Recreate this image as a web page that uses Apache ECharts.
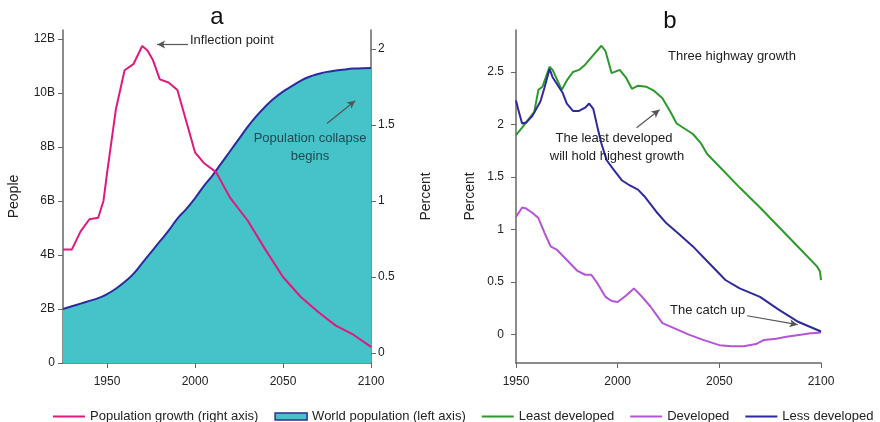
<!DOCTYPE html>
<html><head><meta charset="utf-8">
<script src="https://cdn.jsdelivr.net/npm/echarts@6/dist/echarts.min.js"></script>
<style>html,body{margin:0;padding:0;background:#fff}#c{width:880px;height:422px}</style>
</head><body><div id="c"></div>
<script>
// Panel a
const growthYears  = [1925,1930,1935,1940,1945,1948,1950,1955,1960,1965,1970,1973,1976,1980,1985,1990,2000,2005,2012,2020,2030,2040,2050,2060,2070,2080,2090,2100];
const growthValues = [0.68,0.68,0.80,0.88,0.89,1.00,1.18,1.60,1.86,1.90,2.02,1.99,1.93,1.80,1.78,1.73,1.32,1.25,1.19,1.02,0.87,0.68,0.50,0.37,0.27,0.18,0.12,0.04];
const popYears  = [1925,1930,1935,1940,1945,1950,1955,1960,1965,1970,1975,1980,1985,1990,1995,2000,2005,2010,2015,2020,2025,2030,2035,2040,2045,2050,2055,2060,2065,2070,2075,2080,2085,2090,2095,2100];
const popValues = [2.0,2.1,2.2,2.3,2.4,2.55,2.75,3.0,3.3,3.7,4.1,4.5,4.9,5.35,5.7,6.1,6.55,6.95,7.4,7.85,8.3,8.75,9.15,9.5,9.8,10.05,10.25,10.45,10.6,10.7,10.78,10.83,10.87,10.9,10.91,10.92];
const leftTicks  = [0,2,4,6,8,10,12];
const rightTicks = [0,0.5,1,1.5,2];
const xTicks = [1950,2000,2050,2100];
// Panel b
const leastYears  = [1950,1953,1957,1959,1961,1963,1966.5,1968,1972.5,1975,1978,1981,1984,1988,1992,1994,1997,2001,2004,2007,2010,2014,2018,2022,2026,2029,2033,2037,2041,2044,2050,2060,2070,2080,2090,2098,2099.5,2100];
const leastValues = [1.90,1.97,2.07,2.12,2.33,2.36,2.55,2.52,2.33,2.42,2.50,2.52,2.57,2.66,2.75,2.70,2.49,2.52,2.45,2.34,2.37,2.36,2.32,2.25,2.12,2.01,1.96,1.91,1.82,1.72,1.60,1.40,1.21,1.01,0.81,0.65,0.60,0.52];
const lessYears  = [1950,1951,1953,1955,1958,1962,1964,1966.5,1968,1971,1973,1975,1978,1981,1984,1986,1988,1990,1992,1994.6,1998,2002,2006,2010,2013,2015,2019,2024,2030,2037,2045,2053,2060,2070,2079,2089,2100];
const lessValues = [2.23,2.15,2.01,2.02,2.08,2.22,2.35,2.53,2.45,2.36,2.30,2.20,2.13,2.13,2.16,2.20,2.15,1.98,1.82,1.66,1.57,1.47,1.42,1.38,1.32,1.27,1.17,1.06,0.96,0.84,0.68,0.52,0.44,0.36,0.24,0.12,0.03];
const devYears  = [1950,1953,1955,1958,1961,1964,1967,1970,1975,1980,1984,1987,1990,1994,1997,2000,2004,2008,2012,2016,2019,2022,2028,2035,2042,2050,2056,2062,2068,2072,2078,2083,2090,2094,2100];
const devValues = [1.12,1.21,1.20,1.16,1.11,0.97,0.84,0.81,0.71,0.61,0.57,0.57,0.49,0.36,0.32,0.31,0.37,0.44,0.36,0.27,0.19,0.11,0.06,0.00,-0.05,-0.10,-0.11,-0.11,-0.09,-0.05,-0.04,-0.02,0.00,0.01,0.02];
const bTicks = [0,0.5,1,1.5,2,2.5];

const zip = (xs, ys) => xs.map((x, i) => [x, ys[i]]);
const FONT = 'Liberation Sans';
const AX = '#666';
const TXT = '#222';
const PINK = '#e0197f', BLUE = '#2f2a9c', TEAL = '#46c3c8', GREEN = '#2b9a2b', PURPLE = '#b554d6';
const LINE_ICON = 'path://M0,0 L32,0 L32,2 L0,2 Z';

function yAxisBase(extra, ticks, margin, fmt) {
  return Object.assign({
    type: 'value', splitLine: {show: false},
    axisLine: {show: true, lineStyle: {color: AX, width: 1.5}},
    axisTick: {show: true, length: 5, lineStyle: {color: AX}, customValues: ticks},
    axisLabel: {color: TXT, fontFamily: FONT, fontSize: 12, margin: margin, customValues: ticks,
      formatter: fmt || (v => String(v))},
    nameLocation: 'middle', nameTextStyle: {color: TXT, fontFamily: FONT, fontSize: 14}
  }, extra);
}
function xAxisBase(extra) {
  return Object.assign({
    type: 'value', splitLine: {show: false},
    axisLine: {show: true, onZero: false, lineStyle: {color: AX, width: 1.5}},
    axisTick: {show: true, length: 5, lineStyle: {color: AX}, customValues: xTicks},
    axisLabel: {color: TXT, fontFamily: FONT, fontSize: 12, margin: 13, customValues: xTicks,
      formatter: v => String(v)}
  }, extra);
}
const arrowLine = (c) => ({
  silent: true, symbol: ['none', 'arrow'], symbolSize: [6, 8],
  lineStyle: {color: '#555', type: 'solid', width: 1.2}, label: {show: false},
  data: [[{coord: c[0]}, {coord: c[1]}]]
});
const txt = (x, y, s, align, fill) => ({type: 'text', x: x, y: y, z: 100,
  style: {text: s, fill: fill || TXT, font: '13px ' + FONT, textAlign: align || 'left', textVerticalAlign: 'middle'}});

const chart = echarts.init(document.getElementById('c'), null, {renderer: 'canvas'});
chart.setOption({
  animation: false,
  textStyle: {fontFamily: FONT},
  grid: [
    {left: 63, right: 509, top: 30, bottom: 59},
    {left: 516, right: 59, top: 30, bottom: 59}
  ],
  xAxis: [
    xAxisBase({gridIndex: 0, min: 1925, max: 2100}),
    xAxisBase({gridIndex: 1, min: 1950, max: 2100})
  ],
  yAxis: [
    yAxisBase({gridIndex: 0, min: 0, max: 12.33, name: 'People', nameGap: 42}, leftTicks, 8,
      v => v === 0 ? '0' : v + 'B'),
    yAxisBase({gridIndex: 0, position: 'right', min: -0.066, max: 2.125, name: 'Percent', nameGap: 48},
      rightTicks, 7),
    yAxisBase({gridIndex: 1, min: -0.27, max: 2.9, name: 'Percent', nameGap: 39}, bTicks, 12)
  ],
  legend: {
    left: 53, top: 410, width: 826, padding: 0, itemWidth: 32, itemHeight: 7, itemGap: 16,
    textStyle: {color: TXT, fontFamily: FONT, fontSize: 13},
    data: [
      {name: 'Population growth (right axis)', icon: LINE_ICON, itemStyle: {color: PINK}},
      {name: 'World population (left axis)', icon: 'rect', itemStyle: {color: TEAL, borderColor: BLUE, borderWidth: 1.5}},
      {name: 'Least developed', icon: LINE_ICON, itemStyle: {color: GREEN}},
      {name: 'Developed', icon: LINE_ICON, itemStyle: {color: PURPLE}},
      {name: 'Less developed', icon: LINE_ICON, itemStyle: {color: BLUE}}
    ]
  },
  series: [
    {name: 'World population (left axis)', type: 'line', xAxisIndex: 0, yAxisIndex: 0,
      data: zip(popYears, popValues), symbol: 'none', smooth: true, z: 2,
      lineStyle: {color: BLUE, width: 2}, itemStyle: {color: TEAL},
      areaStyle: {color: TEAL, opacity: 1}},
    {name: 'Population growth (right axis)', type: 'line', xAxisIndex: 0, yAxisIndex: 1,
      data: zip(growthYears, growthValues), symbol: 'none', z: 3,
      lineStyle: {color: PINK, width: 2}, itemStyle: {color: PINK},
      markLine: {
        silent: true, symbol: ['none', 'arrow'], symbolSize: [6, 8],
        lineStyle: {color: '#555', type: 'solid', width: 1.2}, label: {show: false},
        data: [
          [{coord: [1996, 2.03]}, {coord: [1978.5, 2.03]}],
          [{coord: [2075, 1.51]}, {coord: [2091, 1.66]}]
        ]
      }},
    {name: 'Least developed', type: 'line', xAxisIndex: 1, yAxisIndex: 2,
      data: zip(leastYears, leastValues), symbol: 'none',
      lineStyle: {color: GREEN, width: 2}, itemStyle: {color: GREEN},
      markLine: arrowLine([[2009.3, 1.97], [2020.6, 2.14]])},
    {name: 'Developed', type: 'line', xAxisIndex: 1, yAxisIndex: 2,
      data: zip(devYears, devValues), symbol: 'none',
      lineStyle: {color: PURPLE, width: 2}, itemStyle: {color: PURPLE}},
    {name: 'Less developed', type: 'line', xAxisIndex: 1, yAxisIndex: 2,
      data: zip(lessYears, lessValues), symbol: 'none',
      lineStyle: {color: BLUE, width: 2}, itemStyle: {color: BLUE},
      markLine: arrowLine([[2063.7, 0.18], [2088.5, 0.095]])}
  ],
  graphic: [
    {type: 'text', x: 217, y: 17, z: 100, style: {text: 'a', fill: '#111', font: '24px ' + FONT, textAlign: 'center', textVerticalAlign: 'middle'}},
    {type: 'text', x: 670, y: 21, z: 100, style: {text: 'b', fill: '#111', font: '24px ' + FONT, textAlign: 'center', textVerticalAlign: 'middle'}},
    txt(190, 40, 'Inflection point'),
    txt(310, 138, 'Population collapse', 'center', '#1d4a52'),
    txt(310, 156, 'begins', 'center', '#1d4a52'),
    txt(668, 56, 'Three highway growth'),
    txt(614, 138, 'The least developed', 'center'),
    txt(617, 156, 'will hold highest growth', 'center'),
    txt(670, 310, 'The catch up')
  ]
});
</script></body></html>
